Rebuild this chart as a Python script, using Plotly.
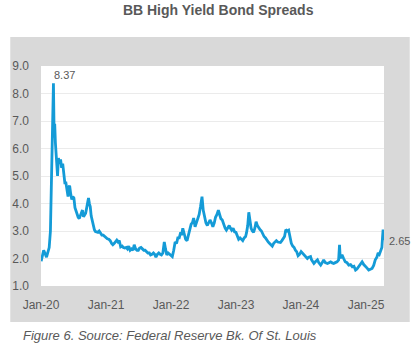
import plotly.graph_objects as go

# ---- data ----
dates = [
    "2020-01-02", "2020-01-16", "2020-02-01", "2020-02-16", "2020-02-23", "2020-02-27",
    "2020-03-03", "2020-03-06", "2020-03-11", "2020-03-15", "2020-03-18", "2020-03-22",
    "2020-03-26", "2020-03-30", "2020-04-03", "2020-04-08", "2020-04-14", "2020-04-20",
    "2020-04-26", "2020-05-02", "2020-05-08", "2020-05-14", "2020-05-20", "2020-05-26",
    "2020-06-01", "2020-06-06", "2020-06-10", "2020-06-16", "2020-06-22", "2020-06-28",
    "2020-07-04", "2020-07-10", "2020-07-16", "2020-07-22", "2020-07-28", "2020-08-03",
    "2020-08-09", "2020-08-15", "2020-08-21", "2020-08-27", "2020-09-02", "2020-09-08",
    "2020-09-14", "2020-09-20", "2020-09-24", "2020-09-29", "2020-10-04", "2020-10-09",
    "2020-10-15", "2020-10-21", "2020-10-27", "2020-11-02", "2020-11-09", "2020-11-16",
    "2020-11-23", "2020-12-01", "2020-12-08", "2020-12-16", "2020-12-23",
    "2021-01-01", "2021-01-08", "2021-01-16", "2021-01-24", "2021-02-01", "2021-02-08",
    "2021-02-16", "2021-02-24", "2021-03-02", "2021-03-09", "2021-03-16", "2021-03-24",
    "2021-04-01", "2021-04-08", "2021-04-16", "2021-04-24", "2021-05-01", "2021-05-08",
    "2021-05-16", "2021-05-24", "2021-06-01", "2021-06-08", "2021-06-16", "2021-06-24",
    "2021-07-01", "2021-07-08", "2021-07-16", "2021-07-24", "2021-08-01", "2021-08-08",
    "2021-08-16", "2021-08-24", "2021-09-01", "2021-09-08", "2021-09-16", "2021-09-24",
    "2021-10-01", "2021-10-08", "2021-10-16", "2021-10-24", "2021-11-01", "2021-11-08",
    "2021-11-16", "2021-11-24", "2021-12-01", "2021-12-08", "2021-12-16", "2021-12-24",
    "2022-01-01", "2022-01-08", "2022-01-16", "2022-01-24", "2022-02-01", "2022-02-08",
    "2022-02-16", "2022-02-24", "2022-03-01", "2022-03-08", "2022-03-16", "2022-03-24",
    "2022-04-01", "2022-04-08", "2022-04-16", "2022-04-24", "2022-05-01", "2022-05-08",
    "2022-05-16", "2022-05-24", "2022-06-01", "2022-06-08", "2022-06-16", "2022-06-24",
    "2022-07-01", "2022-07-08", "2022-07-16", "2022-07-24", "2022-08-01", "2022-08-08",
    "2022-08-16", "2022-08-24", "2022-09-01", "2022-09-08", "2022-09-16", "2022-09-24",
    "2022-10-01", "2022-10-08", "2022-10-16", "2022-10-24", "2022-11-01", "2022-11-08",
    "2022-11-16", "2022-11-24", "2022-12-01", "2022-12-08", "2022-12-16", "2022-12-24",
    "2023-01-01", "2023-01-08", "2023-01-16", "2023-01-24", "2023-02-01", "2023-02-08",
    "2023-02-16", "2023-02-24", "2023-03-01", "2023-03-08", "2023-03-14", "2023-03-20",
    "2023-03-27", "2023-04-03", "2023-04-10", "2023-04-17", "2023-04-24", "2023-05-01",
    "2023-05-08", "2023-05-16", "2023-05-24", "2023-06-01", "2023-06-08", "2023-06-16",
    "2023-06-24", "2023-07-01", "2023-07-08", "2023-07-16", "2023-07-24", "2023-08-01",
    "2023-08-08", "2023-08-16", "2023-08-24", "2023-09-01", "2023-09-08", "2023-09-16",
    "2023-09-24", "2023-10-01", "2023-10-08", "2023-10-16", "2023-10-24", "2023-11-01",
    "2023-11-08", "2023-11-16", "2023-11-24", "2023-12-01", "2023-12-08", "2023-12-16",
    "2023-12-24",
    "2024-01-02", "2024-01-10", "2024-01-17", "2024-01-25", "2024-02-01", "2024-02-06",
    "2024-02-14", "2024-02-24", "2024-03-01", "2024-03-08", "2024-03-14", "2024-03-22",
    "2024-04-03", "2024-04-10", "2024-04-21", "2024-04-30", "2024-05-08", "2024-05-17",
    "2024-05-29", "2024-06-07", "2024-06-16", "2024-06-25", "2024-07-03", "2024-07-12",
    "2024-07-22", "2024-07-31", "2024-08-05", "2024-08-09", "2024-08-19", "2024-08-28",
    "2024-09-06", "2024-09-16", "2024-09-26", "2024-10-06", "2024-10-16", "2024-10-25",
    "2024-11-03", "2024-11-11", "2024-11-19", "2024-11-29", "2024-12-10", "2024-12-19",
    "2024-12-28",
    "2025-01-07", "2025-01-16", "2025-01-25", "2025-02-04", "2025-02-13", "2025-02-22",
    "2025-03-03", "2025-03-10", "2025-03-17", "2025-03-24", "2025-03-31", "2025-04-04",
    "2025-04-07", "2025-04-09", "2025-04-11",
]

spreads = [
    1.90, 2.30, 2.05, 2.40, 3.00, 4.30,
    6.50, 7.50, 8.37, 6.40, 6.90, 6.20,
    5.60, 5.20, 5.00, 5.65, 5.45, 5.60,
    5.30, 5.45, 5.10, 4.75, 4.75, 4.40,
    4.25, 4.60, 4.65, 4.35, 4.15, 4.25,
    4.20, 3.85, 3.70, 3.58, 3.50, 3.45,
    3.58, 3.65, 3.76, 3.52, 3.60, 3.65,
    3.85, 4.20, 4.20, 4.00, 3.88, 3.55,
    3.35, 3.15, 3.05, 2.98, 2.97, 2.95,
    3.00, 2.92, 2.85, 2.85, 2.80,
    2.75, 2.72, 2.70, 2.65, 2.55, 2.50,
    2.55, 2.60, 2.67, 2.60, 2.65, 2.42,
    2.45, 2.40, 2.38, 2.40, 2.35, 2.45,
    2.30, 2.35, 2.30, 2.50, 2.35, 2.30,
    2.30, 2.38, 2.40, 2.35, 2.30, 2.30,
    2.25, 2.20, 2.20, 2.13, 2.15, 2.20,
    2.15, 2.05, 2.15, 2.20, 2.15, 2.13,
    2.20, 2.60, 2.35, 2.13, 2.20, 2.15,
    2.10, 2.07, 2.30, 2.60, 2.55, 2.75,
    2.75, 2.95, 2.85, 3.10, 2.90, 2.70,
    2.65, 2.85, 3.10, 3.25, 3.30, 3.47,
    3.15, 3.30, 3.50, 3.60, 3.90, 4.25,
    3.75, 3.50, 3.30, 3.20, 3.30, 3.40,
    3.30, 3.15, 3.30, 3.50, 3.60, 3.76,
    3.60, 3.45, 3.40, 3.20, 3.10, 3.03,
    3.10, 3.20, 3.10, 3.03, 3.10, 2.97,
    2.95, 2.85, 2.70, 2.75, 2.70, 2.65,
    2.75, 2.80, 2.93, 3.20, 3.68, 3.45,
    3.10, 3.00, 2.95, 3.10, 3.34, 3.20,
    3.10, 3.05, 3.00, 2.85, 2.80, 2.75,
    2.65, 2.60, 2.55, 2.50, 2.45, 2.55,
    2.60, 2.65, 2.60, 2.60, 2.58, 2.65,
    2.75, 2.80, 3.05, 3.00, 3.03, 2.75,
    2.55, 2.45, 2.40, 2.30, 2.25, 2.10,
    2.15,
    2.25, 2.20, 2.13, 2.10, 2.05, 2.00,
    2.05, 2.07, 1.95, 1.90, 1.82, 1.88,
    1.95, 1.85, 1.76, 1.85, 1.95, 1.85,
    1.82, 1.85, 1.88, 1.84, 1.82, 1.85,
    1.88, 1.95, 2.50, 2.00, 2.13, 2.00,
    1.88, 1.85, 1.76, 1.78, 1.70, 1.72,
    1.58, 1.62, 1.70, 1.80, 1.88, 1.78,
    1.70,
    1.65, 1.58, 1.60, 1.64, 1.75, 1.95,
    2.05, 2.20, 2.15, 2.30, 2.40, 2.80,
    3.05, 2.95, 2.65,
]

tick_dates = ["2020-01-01", "2021-01-01", "2022-01-01", "2023-01-01", "2024-01-01", "2025-01-01"]
tick_labels = ["Jan-20", "Jan-21", "Jan-22", "Jan-23", "Jan-24", "Jan-25"]
y_ticks = [1, 2, 3, 4, 5, 6, 7, 8, 9]

title_text = "BB High Yield Bond Spreads"
caption_text = "Figure 6. Source: Federal Reserve Bk. Of St. Louis"

LINE = "#149bd7"
TXT = "#595959"
FONT = "Liberation Sans, Arial, sans-serif"

peak_i = spreads.index(max(spreads))

fig = go.Figure()
fig.add_trace(go.Scatter(
    x=dates, y=spreads, mode="lines",
    line=dict(color=LINE, width=2.8),
    hoverinfo="skip", showlegend=False,
))

fig.add_annotation(x=dates[peak_i], y=spreads[peak_i], text=f"{spreads[peak_i]:.2f}",
                   showarrow=False, xanchor="left", yanchor="bottom", xshift=-1, yshift=0,
                   font=dict(family=FONT, size=11, color=TXT))
fig.add_annotation(x=dates[-1], y=spreads[-1], text=f"{spreads[-1]:.2f}",
                   showarrow=False, xanchor="left", yanchor="middle", xshift=3,
                   font=dict(family=FONT, size=11, color=TXT))

fig.add_annotation(xref="paper", yref="paper", x=-0.058, y=-0.227, text=f"<i>{caption_text}</i>",
                   showarrow=False, xanchor="left", yanchor="middle",
                   font=dict(family=FONT, size=13, color=TXT))

# gray frame behind the plot and the white plotting area
fig.add_shape(type="rect", xref="paper", yref="paper", x0=-0.0896, x1=1.075, y0=-0.1636, y1=1.1318,
              fillcolor="#d9d9d9", line=dict(width=0), layer="below")
fig.add_shape(type="rect", xref="paper", yref="paper", x0=0, x1=1, y0=0, y1=1,
              fillcolor="white", line=dict(width=0), layer="below")

fig.update_layout(
    width=414, height=358,
    margin=dict(l=38, r=30, t=66, b=72),
    paper_bgcolor="white", plot_bgcolor="white",
    title=dict(text=f"<b>{title_text}</b>", x=0.527, xanchor="center", y=0.973, yanchor="middle",
               font=dict(family=FONT, size=14, color=TXT)),
    xaxis=dict(range=["2020-01-01", "2025-04-12"], tickvals=tick_dates, ticktext=tick_labels,
               showgrid=False, zeroline=False, showline=False, ticks="",
               ticklabelstandoff=10,
               tickfont=dict(family=FONT, size=12, color=TXT)),
    yaxis=dict(range=[1, 9], tickvals=y_ticks, tickformat=".1f",
               showgrid=True, gridcolor="#ebebeb", gridwidth=1, zeroline=False, showline=False,
               ticks="", ticklabelstandoff=11,
               tickfont=dict(family=FONT, size=12, color=TXT)),
)

fig.write_html("out.html",
               config={"displayModeBar": False, "staticPlot": True},
               post_script="document.body.style.margin='0';document.body.style.overflow='hidden';")
